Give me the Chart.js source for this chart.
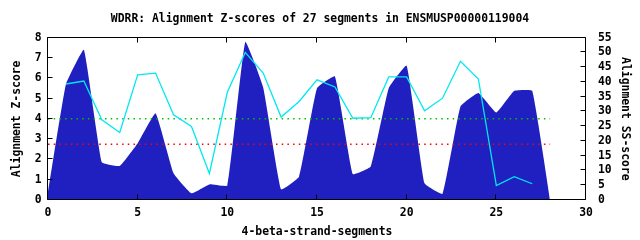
<!DOCTYPE html>
<html><head><meta charset="utf-8">
<script src="https://cdn.jsdelivr.net/npm/chart.js@4/dist/chart.umd.min.js"></script>
<style>html,body{margin:0;padding:0;background:#fff;}canvas{display:block;}</style>
</head><body>
<canvas id="c" width="640" height="240"></canvas>
<script>
const titleText = 'WDRR: Alignment Z-scores of 27 segments in ENSMUSP00000119004';
const xTitle = '4-beta-strand-segments';
const yTitle = 'Alignment Z-score';
const y2Title = 'Alignment SS-score';

const zSegments = [0,1,2,3,4,5,6,7,8,9,10,11,12,13,14,15,16,17,18,19,20,21,22,23,24,25,26,27,28];
const zScores   = [0.35,5.7,7.4,1.86,1.68,2.8,4.28,1.32,0.33,0.77,0.71,7.79,5.55,0.53,1.15,5.51,6.09,1.28,1.65,5.51,6.62,0.82,0.3,4.61,5.27,4.31,5.38,5.38,0];

const ssSegments = [1,2,3,4,5,6,7,8,9,10,11,12,13,14,15,16,17,18,19,20,21,22,23,24,25,26,27];
const ssScores   = [39.3,40.3,27.2,22.9,42.4,43.0,28.9,24.9,9.0,36.5,50.0,43.0,28.1,33.4,40.7,38.3,27.7,27.9,41.7,41.7,30.2,34.5,47.0,41.0,4.9,7.9,5.5];

const thresholdSpan = [0, 28];
const upperThreshold = 4.0;
const lowerThreshold = 2.75;

const xTickValues = [0,5,10,15,20,25,30];
const yTickValues = [0,1,2,3,4,5,6,7,8];
const y2TickValues = [0,5,10,15,20,25,30,35,40,45,50,55];

const FONT = {family: "'DejaVu Sans Mono', monospace", size: 11.4, weight: 'bold', lineHeight: 1.2};

const pts = (xs, ys) => xs.map((x, i) => ({x, y: ys[i]}));

const frame = {
  id: 'frame',
  afterDatasetsDraw(chart) {
    const {ctx, chartArea: a, scales} = chart;
    ctx.save();
    ctx.strokeStyle = '#000';
    ctx.lineWidth = 1;
    const L = Math.round(a.left) - 0.5, R = Math.round(a.right) - 0.5;
    const T = Math.round(a.top) - 0.5, B = Math.round(a.bottom) - 0.5;
    ctx.beginPath();
    ctx.rect(L, T, R - L, B - T);
    const tl = 5;
    scales.y.ticks.forEach(t => {
      const y = Math.round(scales.y.getPixelForValue(t.value)) - 0.5;
      ctx.moveTo(L, y); ctx.lineTo(L + tl, y);
    });
    scales.y2.ticks.forEach(t => {
      const y = Math.round(scales.y2.getPixelForValue(t.value)) - 0.5;
      ctx.moveTo(R, y); ctx.lineTo(R - tl, y);
    });
    scales.x.ticks.forEach(t => {
      const x = Math.round(scales.x.getPixelForValue(t.value)) - 0.5;
      ctx.moveTo(x, B); ctx.lineTo(x, B - tl);
      ctx.moveTo(x, T); ctx.lineTo(x, T + tl);
    });
    ctx.stroke();
    ctx.restore();
  }
};

new Chart(document.getElementById('c'), {
  type: 'line',
  data: {
    datasets: [
      {
        label: 'Z-score', data: pts(zSegments, zScores), yAxisID: 'y',
        fill: 'origin', backgroundColor: 'rgb(32,32,192)', borderWidth: 0,
        borderColor: 'rgb(32,32,192)', pointRadius: 0, tension: 0.1, order: 4
      },
      {
        label: 'upper', data: pts(thresholdSpan, [upperThreshold, upperThreshold]), yAxisID: 'y',
        borderColor: '#00c000', borderWidth: 1.5, borderDash: [1.5, 4.2], pointRadius: 0, fill: false, order: 2
      },
      {
        label: 'lower', data: pts(thresholdSpan, [lowerThreshold, lowerThreshold]), yAxisID: 'y',
        borderColor: '#ff0000', borderWidth: 1.5, borderDash: [1.5, 4.2], pointRadius: 0, fill: false, order: 2
      },
      {
        label: 'SS-score', data: pts(ssSegments, ssScores), yAxisID: 'y2',
        borderColor: '#00e8f0', borderWidth: 1.3, pointRadius: 0, fill: false, tension: 0, order: 1
      }
    ]
  },
  options: {
    responsive: false, animation: false, devicePixelRatio: 1,
    layout: {padding: 0},
    font: FONT,
    plugins: {
      legend: {display: false}, tooltip: {enabled: false},
      title: {display: true, text: titleText, color: '#000', font: FONT, padding: {top: 12, bottom: 12}}
    },
    scales: {
      x: {
        type: 'linear', min: 0, max: 30, position: 'bottom',
        afterBuildTicks: s => { s.ticks = xTickValues.map(v => ({value: v})); },
        afterFit: s => { s.height = 40; },
        grid: {display: false, drawTicks: false}, border: {display: false},
        ticks: {color: '#000', font: FONT, padding: 6, maxRotation: 0, autoSkip: false},
        title: {display: true, text: xTitle, color: '#000', font: FONT, padding: {top: 0, bottom: 1}}
      },
      y: {
        type: 'linear', min: 0, max: 8, position: 'left',
        afterBuildTicks: s => { s.ticks = yTickValues.map(v => ({value: v})); },
        afterFit: s => { s.width = 48; },
        grid: {display: false, drawTicks: false}, border: {display: false},
        ticks: {color: '#000', font: FONT, padding: 6.5, autoSkip: false},
        title: {display: true, text: yTitle, color: '#000', font: FONT, padding: {top: 10, bottom: 0}}
      },
      y2: {
        type: 'linear', min: 0, max: 55, position: 'right',
        afterBuildTicks: s => { s.ticks = y2TickValues.map(v => ({value: v})); },
        afterFit: s => { s.width = 54; },
        grid: {display: false, drawTicks: false}, border: {display: false},
        ticks: {color: '#000', font: FONT, padding: 12, autoSkip: false},
        title: {display: true, text: y2Title, color: '#000', font: FONT, padding: {top: 8, bottom: 0}}
      }
    }
  },
  plugins: [frame]
});
</script>
</body></html>
